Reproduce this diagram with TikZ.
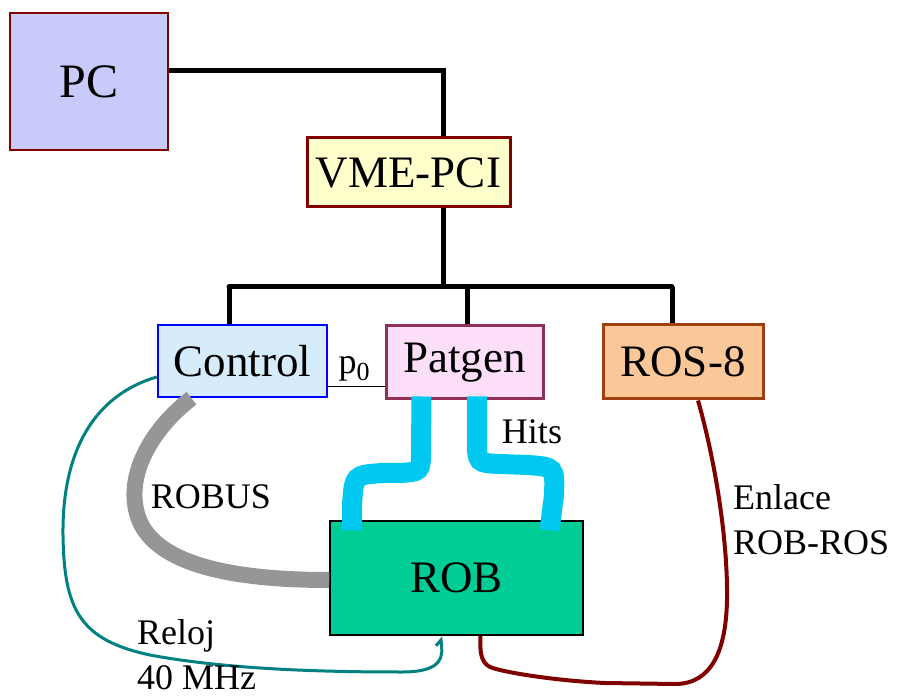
\documentclass[tikz,border=0pt]{standalone}
\usepackage{fontspec}
\setmainfont{Liberation Serif}
\usetikzlibrary{calc}
\definecolor{pcfill}{RGB}{200,202,250}
\definecolor{vmefill}{RGB}{255,255,204}
\definecolor{ctlfill}{RGB}{214,236,250}
\definecolor{patfill}{RGB}{252,222,248}
\definecolor{rosfill}{RGB}{250,200,152}
\definecolor{robfill}{RGB}{0,204,150}
\definecolor{dred}{RGB}{128,0,0}
\definecolor{patdraw}{RGB}{144,48,88}
\definecolor{rosdraw}{RGB}{160,64,16}
\definecolor{cable}{RGB}{0,200,240}
\definecolor{robus}{RGB}{150,150,150}
\definecolor{teal}{RGB}{0,128,128}
\tikzset{
  box/.style={draw, rectangle, inner sep=0pt, font=\fontsize{45}{48}\selectfont},
  bus/.style={line width=5pt, black},
  lbl/.style={font=\fontsize{36}{40}\selectfont, inner sep=0pt},
  cablestyle/.style={line width=20pt, cable},
}
\begin{document}
\begin{tikzpicture}[x=1pt,y=-1pt]
\useasboundingbox (0,0) rectangle (900,700);
% boxes
\node[box, fill=pcfill, draw=dred, line width=2.5pt, minimum width=158pt, minimum height=137pt, font=\fontsize{48}{52}\selectfont] (PC) at (89,81.5) {PC};
\node[box, fill=vmefill, draw=dred, line width=3pt, minimum width=203pt, minimum height=69pt] (VME) at (408.5,172.5) {VME-PCI};
\node[box, fill=ctlfill, draw=blue, line width=2.5pt, minimum width=169pt, minimum height=72pt] (Control) at (242.5,361) {Control};
\node[box, fill=patfill, draw=patdraw, line width=3pt, minimum width=157pt, minimum height=73pt] (Patgen) at (464.5,362.5) {Patgen};
\node[box, fill=rosfill, draw=rosdraw, line width=3pt, minimum width=160pt, minimum height=74pt] (ROS) at (683,362) {ROS-8};
\node[box, fill=robfill, draw=black, line width=1.5pt, minimum width=253pt, minimum height=114pt] (ROB) at (456.5,578) {ROB};
% bus
\coordinate (busL) at (229,287);
\coordinate (busM) at (467,287);
\coordinate (busR) at (672,287);
\draw[bus] ([yshift=10.5pt]PC.east) -| ([xshift=34.5pt]VME.north);
\draw[bus] ([xshift=34.5pt]VME.south) -- ([xshift=34.5pt]VME.south |- busL);
\draw[bus, line cap=round] (busL) -- (busR);
\draw[bus] (busL) -- (busL |- Control.north);
\draw[bus] (busM) -- (busM |- Patgen.north);
\draw[bus] (busR) -- (busR |- ROS.north);
% p0
\draw[line width=1pt] ([yshift=-26pt]Control.east) -- ([yshift=-26pt]Control.east -| Patgen.west);
\node[font=\fontsize{36}{40}\selectfont, inner sep=0pt] (p0) at (354,369) {p\raisebox{-0.2em}{\fontsize{26}{28}\selectfont 0}};
% cyan cables
\draw[cablestyle] ([xshift=-43pt,yshift=4pt]Patgen.south) -- (421,450) .. controls (421,472) .. (398,473) -- (382,473) .. controls (354,475) .. (352,505) -- ([xshift=-104.5pt,yshift=-10pt]ROB.north);
\draw[cablestyle] ([xshift=12.5pt,yshift=4pt]Patgen.south) -- (477,440) .. controls (477,463) .. (500,464) -- (528,465) .. controls (555,467) .. (554,495) -- ([xshift=93pt,yshift=-10pt]ROB.north);
% ROBUS
\draw[line width=16pt, robus] ([xshift=-51pt]Control.south) .. controls (150,430) and (122,480) .. (140,522) .. controls (162,570) and (250,580) .. ([yshift=-2pt]ROB.west);
% clock
\draw[line width=3pt, teal] ([yshift=-16pt]Control.west) .. controls (95,395) and (62,450) .. (63,535) .. controls (64,610) and (80,640) .. (150,655) .. controls (230,670) and (330,672) .. (402,672) .. controls (445,672) and (443,655) .. (441,640) -- ([xshift=-20.5pt,yshift=-10pt]ROB.south);
% ROB-ROS link
\draw[line width=4pt, dred] ([xshift=15pt]ROS.south) .. controls (715,460) and (728,540) .. (727,600) .. controls (726,650) and (712,684) .. (675,684) -- (605,683) .. controls (560,681) and (505,673) .. (490,667) .. controls (480,662) and (480,650) .. ([xshift=24pt]ROB.south);
% labels
\node[lbl] (robuslbl) at (211,497) {ROBUS};
\node[lbl] (hitslbl) at (532,432) {Hits};
\node[lbl, anchor=west] (enl1) at (733,497) {Enlace};
\node[lbl, anchor=west] (enl2) at (733,543) {ROB-ROS};
\node[lbl, anchor=west] (rel1) at (137,636) {Reloj};
\node[lbl, anchor=west] (rel2) at (137,678) {40 MHz};
\end{tikzpicture}
\end{document}
